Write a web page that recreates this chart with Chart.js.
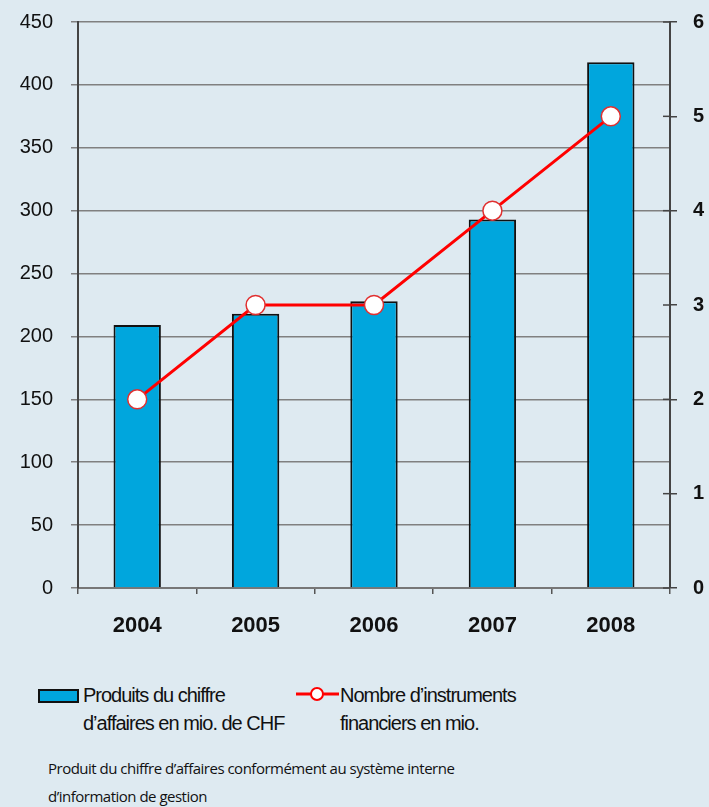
<!DOCTYPE html>
<html><head><meta charset="utf-8">
<script src="https://cdn.jsdelivr.net/npm/chart.js@4"></script>
<style>
html,body{margin:0;padding:0;background:#deeaf1;width:709px;height:807px;overflow:hidden;font-family:"Liberation Sans",Arial,sans-serif;}
#wrap{position:absolute;left:0;top:0;width:709px;height:650px;}
.lg{position:absolute;font-size:20px;line-height:28px;color:#111;letter-spacing:-1px;}
#cap{position:absolute;left:48px;top:754px;font-family:"Open Sans",sans-serif;font-size:15px;line-height:28px;color:#111;letter-spacing:-0.5px;}
</style></head><body>
<div id="wrap"><canvas id="c" width="709" height="650"></canvas></div>
<div style="position:absolute;left:38px;top:689px;width:37px;height:10px;background:#00a6dd;border:2px solid #111;"></div>
<div class="lg" style="left:83px;top:681px;">Produits du chiffre<br>d’affaires en mio. de CHF</div>
<svg style="position:absolute;left:295px;top:685px" width="46" height="18"><line x1="1" y1="9" x2="44" y2="9" stroke="#ff0000" stroke-width="3"/><circle cx="22" cy="9" r="6" fill="#fff" stroke="#ff0000" stroke-width="2"/></svg>
<div class="lg" style="left:340px;top:681px;">Nombre d’instruments<br>financiers en mio.</div>
<div id="cap">Produit du chiffre d’affaires conformément au système interne<br>d’information de gestion</div>
<script>
const categories = ['2004','2005','2006','2007','2008'];
const revenue = [209, 218, 228, 293, 418];
const instruments = [2, 3, 3, 4, 5];
const leftTicks = [0,50,100,150,200,250,300,350,400,450];
const rightTicks = [0,1,2,3,4,5,6];

const crossTicks = {
  id:'crossTicks',
  afterDraw(chart){
    const ctx = chart.ctx, y1 = chart.scales.y1, x = chart.chartArea.right;
    ctx.save(); ctx.strokeStyle='#444'; ctx.lineWidth=1.5;
    rightTicks.forEach(v=>{const y=y1.getPixelForValue(v); ctx.beginPath(); ctx.moveTo(x-7,y); ctx.lineTo(x,y); ctx.stroke();});
    ctx.restore();
  }
};

new Chart(document.getElementById('c'), {
  data:{
    labels:categories,
    datasets:[
      {type:'line', data:instruments, yAxisID:'y1', borderColor:'#ff0000', borderWidth:3,
       pointRadius:9.5, pointBackgroundColor:'#ffffff', pointBorderColor:'#e03030', pointBorderWidth:1.5, order:0},
      {type:'bar', data:revenue, yAxisID:'y', backgroundColor:'#00a6dd', borderColor:'#111', borderWidth:2,
       categoryPercentage:0.4, barPercentage:1.0, order:1}
    ]
  },
  options:{
    responsive:false, animation:false,
    layout:{padding:{top:22,left:0,right:0,bottom:0}},
    plugins:{legend:{display:false}, tooltip:{enabled:false}},
    scales:{
      x:{
        offset:true,
        grid:{offset:true, drawOnChartArea:false, color:'#555', lineWidth:1.5, tickLength:6},
        border:{color:'#777', width:2},
        ticks:{color:'#111', padding:19, font:{family:'Liberation Sans', size:22, weight:'bold'}},
        afterFit(s){s.height=62; s.paddingLeft=0; s.paddingRight=0;}
      },
      y:{
        position:'left', min:0, max:450,
        afterBuildTicks(s){s.ticks = leftTicks.map(v=>({value:v}));},
        grid:{color:'#808080', lineWidth:1.5, tickLength:7},
        border:{color:'#444', width:2},
        ticks:{color:'#111', padding:18, font:{family:'Liberation Sans', size:20}},
        afterFit(s){s.width=78; s.paddingTop=0; s.paddingBottom=0;}
      },
      y1:{
        position:'right', min:0, max:6,
        afterBuildTicks(s){s.ticks = rightTicks.map(v=>({value:v}));},
        grid:{drawOnChartArea:false, color:'#444', lineWidth:1.5, tickLength:7},
        border:{color:'#444', width:2},
        ticks:{color:'#111', padding:16, font:{family:'Liberation Sans', size:20, weight:'bold'}},
        afterFit(s){s.width=39; s.paddingTop=0; s.paddingBottom=0;}
      }
    }
  },
  plugins:[crossTicks]
});
</script>
</body></html>
